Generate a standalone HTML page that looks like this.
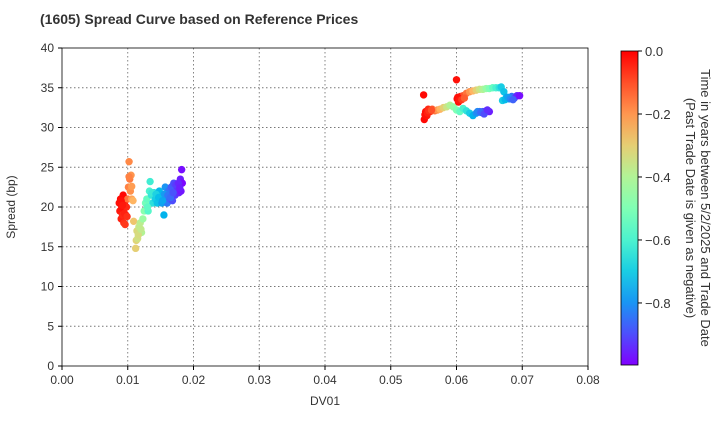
<!DOCTYPE html>
<html><head><meta charset="utf-8"><style>
body{margin:0;background:#fff;font-family:"Liberation Sans",Arial,sans-serif}
svg text{font-family:"Liberation Sans",Arial,sans-serif;fill:#333}
</style></head><body>
<svg id="c" width="720" height="420" xmlns="http://www.w3.org/2000/svg">
<defs><linearGradient id="cg" x1="0" y1="1" x2="0" y2="0">
<stop offset="0" stop-color="#8000ff"/><stop offset="0.1" stop-color="#4d4ffc"/><stop offset="0.2" stop-color="#1996f3"/><stop offset="0.3" stop-color="#1acee3"/><stop offset="0.4" stop-color="#4df3ce"/><stop offset="0.5" stop-color="#80ffb4"/><stop offset="0.6" stop-color="#b2f396"/><stop offset="0.7" stop-color="#e6ce73"/><stop offset="0.8" stop-color="#ff964f"/><stop offset="0.9" stop-color="#ff4f28"/><stop offset="1" stop-color="#ff0000"/></linearGradient></defs>
<text x="40" y="24" font-size="14" font-weight="bold">(1605)   Spread Curve based on Reference Prices</text>
<g id="grid"></g><g id="pts"></g><g id="axes"></g>
<rect x="621" y="51" width="17" height="314" fill="url(#cg)" stroke="#000" stroke-width="0.8"/>
<g id="cb"></g>
<text transform="translate(701,208) rotate(90)" text-anchor="middle" font-size="13">Time in years between 5/2/2025 and Trade Date</text>
<text transform="translate(686,208) rotate(90)" text-anchor="middle" font-size="13">(Past Trade Date is given as negative)</text>
<text x="325" y="405" text-anchor="middle" font-size="12">DV01</text>
<text transform="translate(15,207) rotate(-90)" text-anchor="middle" font-size="12">Spread (bp)</text>
</svg>
<script>
const xTicks=[0,0.01,0.02,0.03,0.04,0.05,0.06,0.07,0.08];
const xTickLabels=["0.00","0.01","0.02","0.03","0.04","0.05","0.06","0.07","0.08"];
const yTicks=[0,5,10,15,20,25,30,35,40];
const cbTicks=[0,-0.2,-0.4,-0.6,-0.8];
const cbTickLabels=["0.0","−0.2","−0.4","−0.6","−0.8"];
const dv01=[0.0087,0.0088,0.0089,0.0090,0.0091,0.0092,0.0093,0.0094,0.0095,0.0096,0.0097,0.0098,
0.0100,0.0101,0.0102,0.0103,0.0104,0.0105,0.0106,0.0108,0.0109,
0.0112,0.0113,0.0114,0.0115,0.0117,0.0119,0.0121,0.0123,
0.0125,0.0127,0.0129,0.0131,0.0133,0.0134,0.0136,0.0138,
0.0140,0.0142,0.0145,0.0148,0.0150,0.0152,0.0155,0.0157,0.0158,
0.0160,0.0162,0.0164,0.0166,0.0168,0.0170,0.0172,0.0174,
0.0176,0.0178,0.0180,0.0181,0.0182,0.0183,
0.0551,0.0553,0.0555,0.0557,0.0560,0.0563,0.0567,0.0571,0.0575,0.0580,0.0585,0.0590,0.0595,0.0600,0.0605,0.0610,0.0615,0.0620,0.0625,0.0630,0.0635,0.0640,0.0645,0.0650,
0.0550,0.0600,0.0601,0.0603,0.0606,0.0610,0.0615,0.0620,0.0625,0.0630,0.0635,0.0640,0.0645,0.0650,0.0655,0.0660,0.0665,0.0668,0.0672,0.0676,0.0680,0.0684,0.0688,0.0692,0.0696,
0.0090,0.0092,0.0095,0.0099,0.0102,0.0106,0.0116,0.0120,0.0130,0.0137,0.0143,0.0147,0.0153,0.0156,0.0161,0.0165,0.0169,0.0173,0.0177,0.0179,
0.0552,0.0556,0.0558,0.0562,0.0602,0.0604,0.0608,0.0612,0.0632,0.0637,0.0642,0.0647,0.0670,0.0674,0.0678,0.0682,0.0686];
const spread=[20.5,19.5,21.0,18.5,20.0,19.0,21.5,18.0,20.5,17.8,19.0,20.0,
21.0,22.5,25.7,23.5,22.0,24.0,21.0,20.8,18.2,
14.8,15.8,17.0,16.0,17.5,18.0,16.8,18.5,
19.5,20.5,21.0,19.5,22.0,23.2,21.5,20.5,
21.8,21.0,20.5,22.0,21.2,20.5,19.0,22.5,21.0,
20.5,22.0,21.0,22.5,20.8,23.0,21.5,22.0,
22.5,21.8,23.5,22.0,24.7,23.0,
31.0,32.0,31.5,32.3,32.0,32.3,32.1,32.2,32.3,32.5,32.6,32.8,32.6,32.2,32.0,32.4,32.1,31.8,31.5,31.8,32.0,32.0,32.1,32.0,
34.1,36.0,33.6,33.2,33.9,34.0,34.3,34.5,34.6,34.7,34.8,34.8,34.9,34.9,35.0,35.0,35.0,35.1,34.5,33.8,33.6,33.9,33.7,34.0,34.0,
20.8,20.2,19.2,18.8,23.8,22.6,16.5,17.2,20.0,21.8,21.6,21.2,20.8,21.6,21.5,21.2,21.8,22.8,23.0,22.4,
31.6,31.8,32.1,32.2,33.8,33.4,33.5,33.7,32.0,31.9,31.7,32.2,33.4,33.5,33.8,33.6,33.5];
const tYears=[-0.02,-0.03,-0.01,-0.04,-0.02,-0.05,-0.01,-0.06,-0.03,-0.07,-0.04,-0.05,
-0.15,-0.17,-0.18,-0.16,-0.19,-0.2,-0.22,-0.25,-0.28,
-0.3,-0.31,-0.32,-0.34,-0.36,-0.38,-0.4,-0.44,
-0.48,-0.52,-0.55,-0.58,-0.6,-0.62,-0.64,-0.66,
-0.68,-0.7,-0.72,-0.74,-0.76,-0.78,-0.75,-0.8,-0.82,
-0.84,-0.85,-0.87,-0.88,-0.9,-0.9,-0.92,-0.93,
-0.94,-0.95,-0.96,-0.97,-0.98,-0.99,
-0.01,-0.02,-0.03,-0.05,-0.08,-0.12,-0.15,-0.2,-0.25,-0.3,-0.35,-0.4,-0.45,-0.5,-0.55,-0.6,-0.65,-0.7,-0.75,-0.8,-0.85,-0.88,-0.92,-0.96,
-0.01,-0.02,-0.01,-0.02,-0.05,-0.1,-0.15,-0.2,-0.25,-0.3,-0.35,-0.4,-0.45,-0.5,-0.55,-0.6,-0.65,-0.7,-0.72,-0.75,-0.8,-0.85,-0.9,-0.95,-0.98,
-0.02,-0.03,-0.04,-0.06,-0.17,-0.21,-0.33,-0.37,-0.56,-0.63,-0.69,-0.73,-0.77,-0.79,-0.84,-0.86,-0.89,-0.92,-0.95,-0.96,
-0.02,-0.04,-0.06,-0.1,-0.02,-0.03,-0.07,-0.12,-0.82,-0.86,-0.9,-0.94,-0.7,-0.74,-0.78,-0.82,-0.87];
const X0=62,X1=588,Y0=366,Y1=48,CB0=51,CB1=365,VMIN=-0.997;
const sx=v=>X0+(v-0)/(0.08)*(X1-X0);
const sy=v=>Y0-(v/40)*(Y0-Y1);
const cy=v=>CB0+(v/VMIN)*(CB1-CB0);
const NS="http://www.w3.org/2000/svg";
function mk(tag,attrs,parent){const e=document.createElementNS(NS,tag);for(const k in attrs)e.setAttribute(k,attrs[k]);parent.appendChild(e);return e;}
function rainbow(t){const x=1-t/VMIN;const c=v=>Math.round(255*Math.max(0,Math.min(1,v)));
return `rgb(${c(Math.abs(2*x-0.5))},${c(Math.sin(Math.PI*x))},${c(Math.cos(Math.PI*x/2))})`;}
const grid=document.getElementById('grid'),axes=document.getElementById('axes'),pts=document.getElementById('pts'),cb=document.getElementById('cb');
xTicks.forEach((v,i)=>{const x=sx(v);
 if(i>0&&i<xTicks.length-1){const l=mk('line',{x1:x,x2:x,y1:Y1,y2:Y0,stroke:'#777','stroke-dasharray':'1.5,2.5','stroke-width':0.9},grid);}
 mk('line',{x1:x,x2:x,y1:Y0,y2:Y0+4,stroke:'#000'},axes);
 const t=mk('text',{x:x,y:Y0+18,'text-anchor':'middle','font-size':12},axes);t.textContent=xTickLabels[i];
 });
yTicks.forEach((v,i)=>{const y=sy(v);
 if(i>0&&i<yTicks.length-1){const l=mk('line',{x1:X0,x2:X1,y1:y,y2:y,stroke:'#777','stroke-dasharray':'1.5,2.5','stroke-width':0.9},grid);}
 mk('line',{x1:X0-4,x2:X0,y1:y,y2:y,stroke:'#000'},axes);
 const t=mk('text',{x:X0-8,y:y+4,'text-anchor':'end','font-size':12},axes);t.textContent=String(v);
 });
const fr=mk('rect',{x:X0,y:Y1,width:X1-X0,height:Y0-Y1,fill:'none',stroke:'#000','stroke-width':0.8},axes);


dv01.forEach((d,i)=>{const c=mk('circle',{cx:sx(d),cy:sy(spread[i]),r:3.7,fill:rainbow(tYears[i])},pts);
 
 });
cbTicks.forEach((v,i)=>{const y=cy(v);mk('line',{x1:638,x2:642,y1:y,y2:y,stroke:'#000'},cb);
 const t=mk('text',{x:645,y:y+5,'font-size':13},cb);t.textContent=cbTickLabels[i];
 
 });
</script>
</body></html>
